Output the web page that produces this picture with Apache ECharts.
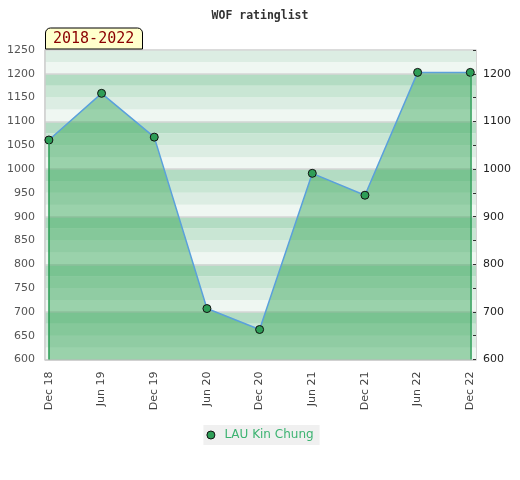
<!DOCTYPE html>
<html>
<head>
<meta charset="utf-8">
<script src="https://cdn.jsdelivr.net/npm/echarts@6/dist/echarts.min.js"></script>
<style>html,body{margin:0;padding:0;background:#fff}#c{width:520px;height:480px}</style>
</head>
<body>
<div id="c"></div>
<script>
const categories = ['Dec 18','Jun 19','Dec 19','Jun 20','Dec 20','Jun 21','Dec 21','Jun 22','Dec 22'];
const ratings = [1061, 1159, 1067, 707, 663, 991, 945, 1203, 1203];
const seriesName = 'LAU Kin Chung';
const titleText = 'WOF ratinglist';
const periodText = '2018-2022';
const yMin = 600, yMax = 1250;
const xIdx = categories.map((c, i) => i);

const data = ratings.map((v, i) => [i, v]);
const last = ratings.length - 1;

const chart = echarts.init(document.getElementById('c'));
chart.setOption({
  animation: false,
  backgroundColor: '#fff',
  title: [{
    text: titleText, left: 'center', top: 5,
    textStyle: { fontFamily: 'DejaVu Sans Mono', fontWeight: 'bold', fontSize: 11.5, color: '#333' }
  }, {
    text: periodText, left: 45, top: 27.5,
    backgroundColor: '#ffffcc', borderColor: '#000', borderWidth: 1,
    borderRadius: [5, 5, 0, 0], padding: [3, 8, 2, 8],
    textStyle: { fontFamily: 'DejaVu Sans Mono', fontWeight: 'normal', fontSize: 15, color: '#8b0000', lineHeight: 17 }
  }],
  legend: {
    data: [{ name: seriesName, icon: 'circle' }],
    left: 'center', top: 425,
    backgroundColor: '#f0f0f0', padding: [4, 6, 4, 3],
    itemWidth: 17, itemHeight: 8,
    itemStyle: { color: '#2e9e57', borderColor: '#111', borderWidth: 1 },
    textStyle: { fontFamily: 'DejaVu Sans', fontSize: 12, color: '#3cb371' }
  },
  grid: { left: 45, top: 50, width: 431, height: 309.5, show: true, borderColor: '#d4d4d4', borderWidth: 1, backgroundColor: 'transparent' },
  xAxis: {
    type: 'value', min: -0.074, max: 8.108,
    axisLine: { show: true, onZero: false, lineStyle: { color: '#ccc', width: 1.5 } },
    axisTick: { show: false },
    splitLine: { show: false },
    axisLabel: {
      customValues: xIdx, rotate: 90, margin: 12,
      fontFamily: 'DejaVu Sans', fontSize: 11, color: '#444',
      formatter: v => categories[Math.round(v)] || ''
    }
  },
  yAxis: [{
    type: 'value', position: 'left', min: yMin, max: yMax, interval: 50,
    axisLine: { show: true, onZero: false, lineStyle: { color: '#ccc', width: 1.5 } },
    axisTick: { show: false },
    splitLine: { show: false },
    axisLabel: { fontFamily: 'DejaVu Sans', fontSize: 11, color: '#555', margin: 10,
      formatter: v => String(v) }
  }, {
    type: 'value', position: 'right', min: yMin, max: yMax, interval: 50,
    axisLine: { show: true, onZero: false, lineStyle: { color: '#d4d4d4', width: 1 } },
    axisTick: { show: true, inside: true, length: 3, lineStyle: { color: '#333' } },
    splitLine: { show: false },
    axisLabel: { fontFamily: 'DejaVu Sans', fontSize: 11, color: '#222', margin: 7,
      formatter: v => (v % 100 === 0 ? String(v) : '') }
  }, {
    type: 'value', min: yMin, max: yMax, interval: 25, position: 'left',
    axisLine: { show: false, onZero: false }, axisTick: { show: false }, axisLabel: { show: false },
    splitLine: { show: false },
    splitArea: { show: true, areaStyle: { color: ['#eff7f2', '#dcede3', '#c9e6d4', '#b3dcc3'] } }
  }, {
    type: 'value', min: yMin, max: yMax, interval: 100, position: 'left',
    axisLine: { show: false, onZero: false }, axisTick: { show: false }, axisLabel: { show: false },
    splitLine: { show: true, lineStyle: { color: '#d6d6d6', width: 1.5 } }
  }],
  series: [{
    name: seriesName, type: 'line', data: data,
    symbol: 'circle', symbolSize: 8,
    itemStyle: { color: '#2e9e57', borderColor: '#111', borderWidth: 1 },
    lineStyle: { color: '#5aa0dc', width: 1.5 },
    areaStyle: { color: 'rgb(50,165,85)', opacity: 0.45 },
    z: 3,
    markLine: {
      silent: true, symbol: 'none', label: { show: false },
      lineStyle: { color: '#2a9d55', width: 1.5, type: 'solid' },
      data: [
        [{ coord: [0, yMin] }, { coord: [0, ratings[0]] }],
        [{ coord: [last, yMin] }, { coord: [last, ratings[last]] }]
      ]
    }
  }]
});
</script>
</body>
</html>
